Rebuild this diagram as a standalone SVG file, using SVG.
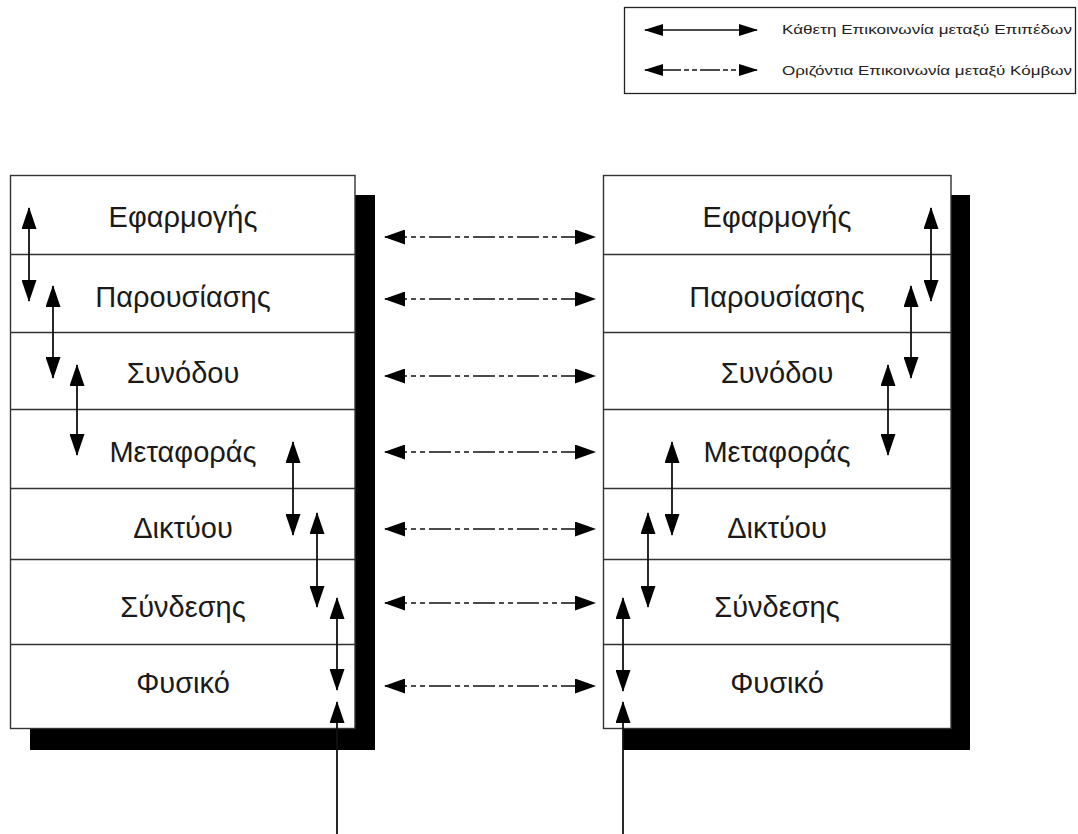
<svg xmlns="http://www.w3.org/2000/svg" width="1078" height="834" viewBox="0 0 1078 834">
  <style>
    .frame { fill: #ffffff; stroke: #333333; stroke-width: 1.4; }
    .shadow { fill: #000000; }
    .sep { stroke: #333333; stroke-width: 1.4; }
    .layer { font-family: "Liberation Sans", "DejaVu Sans", sans-serif; font-size: 29px; fill: #1a1a1a; text-anchor: middle; }
    .legend-text { font-family: "Liberation Sans", "DejaVu Sans", sans-serif; font-size: 13px; fill: #222222; }
    .vert { stroke: #111111; stroke-width: 1.8; fill: none; marker-start: url(#head); marker-end: url(#head); }
    .feed { stroke: #111111; stroke-width: 1.8; fill: none; marker-end: url(#head); }
    .horiz { stroke: #111111; stroke-width: 1.7; fill: none; stroke-dasharray: 22 4 5 4 5 4; marker-start: url(#hhead); marker-end: url(#hhead); }
  </style>
  <defs>
    <marker id="head" viewBox="0 0 22 15" refX="21" refY="7.5" markerWidth="22" markerHeight="15" markerUnits="userSpaceOnUse" orient="auto-start-reverse">
      <path d="M0,0 L22,7.5 L0,15 z" fill="#000000"/>
    </marker>
    <marker id="hhead" viewBox="0 0 21 15" refX="20" refY="7.5" markerWidth="21" markerHeight="15" markerUnits="userSpaceOnUse" orient="auto-start-reverse">
      <path d="M0,0 L21,7.5 L0,15 z" fill="#000000"/>
    </marker>
    <marker id="lhead" viewBox="0 0 19 12" refX="18" refY="6" markerWidth="19" markerHeight="12" markerUnits="userSpaceOnUse" orient="auto-start-reverse">
      <path d="M0,0 L19,6 L0,12 z" fill="#000000"/>
    </marker>
  </defs>

  <rect width="1078" height="834" fill="#ffffff"/>

  <!-- legend -->
  <g id="legend">
    <rect x="624.5" y="7.5" width="451" height="86" fill="#ffffff" stroke="#222222" stroke-width="1.3"/>
    <line x1="645" y1="30" x2="757" y2="30" stroke="#111111" stroke-width="1.7" marker-start="url(#lhead)" marker-end="url(#lhead)"/>
    <line x1="645" y1="70" x2="757" y2="70" stroke="#111111" stroke-width="1.7" stroke-dasharray="5 3 5 3 20 3" marker-start="url(#lhead)" marker-end="url(#lhead)"/>
    <text class="legend-text" x="782" y="34" textLength="290" lengthAdjust="spacingAndGlyphs">Κάθετη Επικοινωνία μεταξύ Επιπέδων</text>
    <text class="legend-text" x="782" y="75" textLength="290" lengthAdjust="spacingAndGlyphs">Οριζόντια Επικοινωνία μεταξύ Κόμβων</text>
  </g>

  <!-- left protocol stack -->
  <g id="stack-left">
    <path class="shadow" d="M355,195 H375 V750 H30 V728 H355 Z"/>
    <rect class="frame" x="10.5" y="175.5" width="344.5" height="553"/>
    <line class="sep" x1="10.5" y1="254.5" x2="355" y2="254.5"/>
    <line class="sep" x1="10.5" y1="332.5" x2="355" y2="332.5"/>
    <line class="sep" x1="10.5" y1="409.5" x2="355" y2="409.5"/>
    <line class="sep" x1="10.5" y1="488.5" x2="355" y2="488.5"/>
    <line class="sep" x1="10.5" y1="559.5" x2="355" y2="559.5"/>
    <line class="sep" x1="10.5" y1="644.5" x2="355" y2="644.5"/>
    <text class="layer" x="183" y="227">Εφαρμογής</text>
    <text class="layer" x="183" y="307">Παρουσίασης</text>
    <text class="layer" x="183" y="383">Συνόδου</text>
    <text class="layer" x="183" y="462">Μεταφοράς</text>
    <text class="layer" x="183" y="538">Δικτύου</text>
    <text class="layer" x="183" y="617">Σύνδεσης</text>
    <text class="layer" x="183" y="693">Φυσικό</text>
  </g>

  <!-- right protocol stack -->
  <g id="stack-right">
    <path class="shadow" d="M951,195 H970 V750 H623 V728 H951 Z"/>
    <rect class="frame" x="603.5" y="175.5" width="347.5" height="553"/>
    <line class="sep" x1="603.5" y1="254.5" x2="951" y2="254.5"/>
    <line class="sep" x1="603.5" y1="332.5" x2="951" y2="332.5"/>
    <line class="sep" x1="603.5" y1="409.5" x2="951" y2="409.5"/>
    <line class="sep" x1="603.5" y1="488.5" x2="951" y2="488.5"/>
    <line class="sep" x1="603.5" y1="559.5" x2="951" y2="559.5"/>
    <line class="sep" x1="603.5" y1="644.5" x2="951" y2="644.5"/>
    <text class="layer" x="777" y="227">Εφαρμογής</text>
    <text class="layer" x="777" y="307">Παρουσίασης</text>
    <text class="layer" x="777" y="383">Συνόδου</text>
    <text class="layer" x="777" y="462">Μεταφοράς</text>
    <text class="layer" x="777" y="538">Δικτύου</text>
    <text class="layer" x="777" y="617">Σύνδεσης</text>
    <text class="layer" x="777" y="693">Φυσικό</text>
  </g>

  <!-- connectors -->
  <g id="connectors">
    <!-- vertical flow, left stack -->
    <line class="vert" x1="29" y1="208" x2="29" y2="301"/>
    <line class="vert" x1="53" y1="286" x2="53" y2="378"/>
    <line class="vert" x1="77" y1="365" x2="77" y2="455"/>
    <line class="vert" x1="293" y1="442" x2="293" y2="535"/>
    <line class="vert" x1="317" y1="513" x2="317" y2="607"/>
    <line class="vert" x1="337" y1="598" x2="337" y2="690"/>
    <line class="feed" x1="337" y1="834" x2="337" y2="702"/>

    <!-- vertical flow, right stack -->
    <line class="vert" x1="931" y1="208" x2="931" y2="301"/>
    <line class="vert" x1="911" y1="286" x2="911" y2="378"/>
    <line class="vert" x1="888" y1="365" x2="888" y2="455"/>
    <line class="vert" x1="672" y1="442" x2="672" y2="535"/>
    <line class="vert" x1="648" y1="513" x2="648" y2="607"/>
    <line class="vert" x1="623" y1="598" x2="623" y2="691"/>
    <line class="feed" x1="623" y1="834" x2="623" y2="702"/>

    <!-- peer-to-peer links between layers -->
    <line class="horiz" x1="385" y1="237" x2="595" y2="237"/>
    <line class="horiz" x1="385" y1="299" x2="595" y2="299"/>
    <line class="horiz" x1="385" y1="376" x2="595" y2="376"/>
    <line class="horiz" x1="385" y1="452" x2="595" y2="452"/>
    <line class="horiz" x1="385" y1="529" x2="595" y2="529"/>
    <line class="horiz" x1="385" y1="603" x2="595" y2="603"/>
    <line class="horiz" x1="385" y1="686" x2="595" y2="686"/>
  </g>
</svg>
